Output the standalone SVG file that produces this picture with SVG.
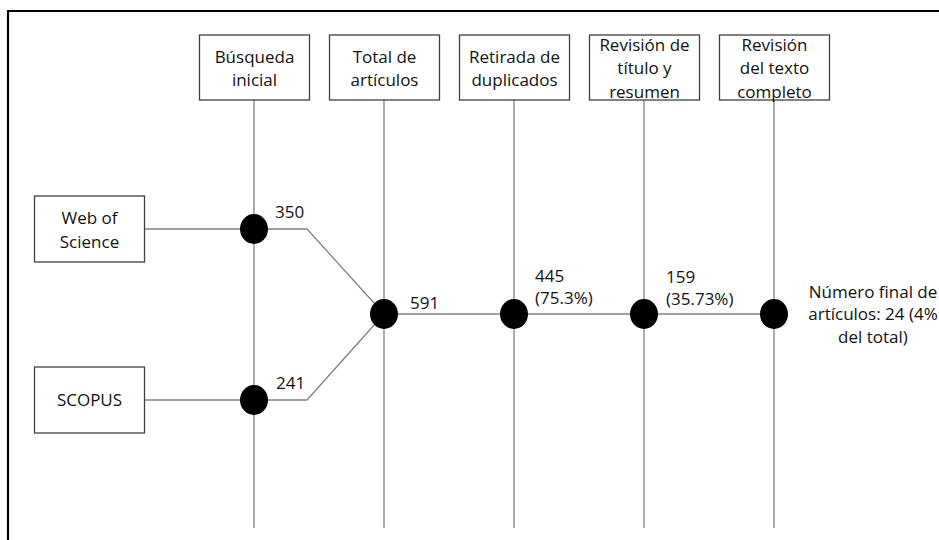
<svg xmlns="http://www.w3.org/2000/svg" width="939" height="540" viewBox="0 0 939 540">
<style>
.box{fill:#fff;stroke:#404040;stroke-width:1.3}
.ln{stroke:#808080;stroke-width:1.3;fill:none}
.dot{fill:#000}
text{font-family:"Open Sans","Liberation Sans",sans-serif;font-size:17px;fill:#111}
.c{text-anchor:middle}
</style>
<rect width="939" height="540" fill="#fff"/>
<path d="M8,540 V11 H939" fill="none" stroke="#000" stroke-width="2.2"/>
<g id="connectors">
<line class="ln" x1="254" y1="100" x2="254" y2="528"/>
<line class="ln" x1="384" y1="100" x2="384" y2="528"/>
<line class="ln" x1="514" y1="100" x2="514" y2="528"/>
<line class="ln" x1="644" y1="100" x2="644" y2="528"/>
<line class="ln" x1="774" y1="100" x2="774" y2="528"/>
<polyline class="ln" points="144,229 307,229 384,314"/>
<polyline class="ln" points="144,400 307,400 384,314"/>
<line class="ln" x1="384" y1="314" x2="774" y2="314"/>
</g>
<g id="n-busqueda"><rect class="box" x="199.5" y="35" width="110" height="65"/><text class="c" x="254.5" y="63">Búsqueda</text><text class="c" x="254.5" y="86">inicial</text></g>
<g id="n-total"><rect class="box" x="329.5" y="35" width="110" height="65"/><text class="c" x="384.5" y="63">Total de</text><text class="c" x="384.5" y="86">artículos</text></g>
<g id="n-retirada"><rect class="box" x="459.5" y="35" width="110" height="65"/><text class="c" x="514.5" y="63">Retirada de</text><text class="c" x="514.5" y="86">duplicados</text></g>
<g id="n-titulo"><rect class="box" x="589.5" y="35" width="110" height="65"/><text class="c" x="644.5" y="51">Revisión de</text><text class="c" x="644.5" y="74">título y</text><text class="c" x="644.5" y="98">resumen</text></g>
<g id="n-texto"><rect class="box" x="719.5" y="35" width="110" height="65"/><text class="c" x="774.5" y="51">Revisión</text><text class="c" x="774.5" y="74">del texto</text><text class="c" x="774.5" y="98">completo</text></g>
<g id="n-wos"><rect class="box" x="34.5" y="196" width="110" height="66"/><text class="c" x="89.5" y="224">Web of</text><text class="c" x="89.5" y="248">Science</text></g>
<g id="n-scopus"><rect class="box" x="34.5" y="367" width="110" height="66"/><text class="c" x="89.5" y="406">SCOPUS</text></g>
<g id="p-wos"><ellipse class="dot" cx="254" cy="229" rx="14" ry="15"/><text x="275" y="218">350</text></g>
<g id="p-scopus"><ellipse class="dot" cx="254" cy="400" rx="14" ry="15"/><text x="276" y="389">241</text></g>
<g id="p-total"><ellipse class="dot" cx="384" cy="314" rx="14" ry="15"/><text x="410" y="309">591</text></g>
<g id="p-retirada"><ellipse class="dot" cx="514" cy="314" rx="14" ry="15"/><text x="535" y="282">445</text><text x="535" y="304">(75.3%)</text></g>
<g id="p-titulo"><ellipse class="dot" cx="644" cy="314" rx="14" ry="15"/><text x="666" y="283">159</text><text x="666" y="305">(35.73%)</text></g>
<g id="p-final"><ellipse class="dot" cx="774" cy="314" rx="14" ry="15"/><text class="c" x="873" y="298">Número final de</text><text class="c" x="873" y="320">artículos: 24 (4%</text><text class="c" x="873" y="343">del total)</text></g>
</svg>
